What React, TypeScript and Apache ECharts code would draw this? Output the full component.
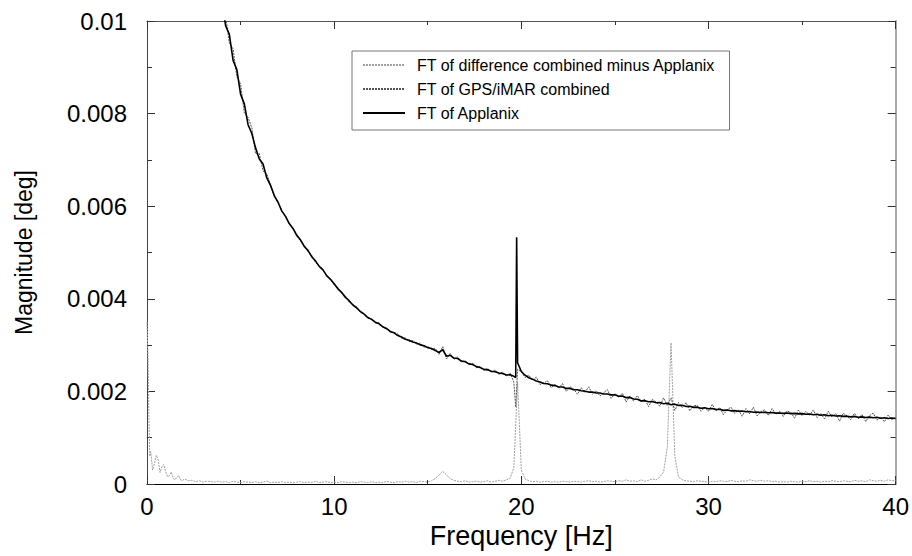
import React, { useEffect, useRef } from "react";
import * as echarts from "echarts";

// Values in micro-degrees (1e-6 deg); converted to deg when building the series.
const STEP_HZ = 0.2;

// FT of Applanix, 4.0 Hz .. 40.0 Hz
const APPLANIX_START = 4.0;
const applanix = [
  10440, 9900, 9710, 9150, 8950, 8420, 8210, 7760, 7570, 7260,
  7020, 6910, 6610, 6450, 6230, 6085, 5900, 5780, 5625, 5520,
  5370, 5275, 5130, 5045, 4910, 4820, 4700, 4625, 4500, 4420,
  4325, 4215, 4140, 4030, 3960, 3865, 3805, 3725, 3670, 3595,
  3555, 3495, 3460, 3395, 3355, 3295, 3265, 3205, 3175, 3125,
  3105, 3065, 3045, 3005, 2985, 2945, 2925, 2885, 2840, 2900,
  2760, 2780, 2720, 2710, 2655, 2640, 2595, 2580, 2535, 2515,
  2475, 2465, 2435, 2425, 2395, 2385, 2355, 2360, 2325, 2620,
  2430, 2350, 2295, 2265, 2225, 2205, 2170, 2165, 2135, 2125,
  2095, 2095, 2065, 2065, 2035, 2035, 2015, 2005, 1985, 1985,
  1965, 1965, 1945, 1945, 1925, 1925, 1895, 1900, 1865, 1870,
  1835, 1830, 1795, 1800, 1775, 1780, 1755, 1760, 1735, 1745,
  1710, 1725, 1695, 1700, 1675, 1680, 1655, 1660, 1635, 1645,
  1625, 1630, 1610, 1615, 1590, 1600, 1580, 1585, 1570, 1575,
  1560, 1565, 1550, 1555, 1545, 1550, 1540, 1545, 1530, 1535,
  1525, 1535, 1520, 1525, 1515, 1520, 1505, 1510, 1495, 1505,
  1485, 1495, 1475, 1485, 1470, 1475, 1460, 1465, 1450, 1460,
  1440, 1450, 1435, 1445, 1430, 1440, 1420, 1430, 1415, 1425,
  1415,
];
const applanixPeakHz = [19.7, 19.75];
const applanixPeakVal = [2300, 5330];

// FT of GPS/iMAR combined, 4.0 Hz .. 40.0 Hz
const GPS_START = 4.0;
const gpsImar = [
  10300, 10110, 9520, 9400, 8800, 8640, 8010, 7920, 7690, 7130,
  7140, 6760, 6700, 6470, 6210, 6090, 5900, 5790, 5620, 5520,
  5395, 5240, 5165, 5020, 4940, 4785, 4720, 4630, 4495, 4435,
  4300, 4245, 4115, 4070, 3925, 3880, 3830, 3710, 3675, 3575,
  3570, 3475, 3485, 3385, 3375, 3270, 3275, 3240, 3150, 3155,
  3075, 3100, 3020, 3045, 2950, 2975, 2905, 2930, 2800, 2970,
  2700, 2820, 2690, 2745, 2630, 2665, 2575, 2610, 2510, 2540,
  2450, 2500, 2405, 2465, 2370, 2420, 2330, 2395, 2200, 2480,
  2420, 2300, 2350, 2240, 2310, 2150, 2180, 2230, 2080, 2150,
  2070, 2170, 2000, 2100, 2050, 1940, 2080, 1980, 2100, 1940,
  2020, 1900, 1970, 2040, 1850, 1950, 1880, 1960, 1770, 1900,
  1790, 1910, 1780, 1830, 1670, 1830, 1770, 1680, 1860, 1700,
  1860, 1590, 1760, 1650, 1760, 1580, 1690, 1700, 1570, 1655,
  1570, 1720, 1580, 1650, 1500, 1605, 1660, 1525, 1600, 1465,
  1630, 1515, 1660, 1468, 1565, 1602, 1480, 1628, 1505, 1572,
  1460, 1577, 1544, 1421, 1598, 1475, 1570, 1485, 1600, 1435,
  1520, 1405, 1570, 1445, 1520, 1355, 1530, 1465, 1390, 1527,
  1404, 1501, 1348, 1475, 1532, 1379, 1446, 1343, 1490, 1388,
  1440,
];
const gpsDipHz = [19.7];
const gpsDipVal = [1660];

// FT of difference combined minus Applanix, 0.0 Hz .. 40.0 Hz
const DIFF_START = 0.0;
const difference = [
  3500, 700, 450, 520, 380, 260, 180, 120, 150, 90,
  110, 70, 80, 50, 70, 40, 60, 50, 40, 60,
  40, 50, 30, 60, 40, 30, 50, 40, 30, 50,
  30, 40, 60, 30, 40, 30, 50, 30, 40, 30,
  40, 50, 30, 40, 30, 60, 30, 40, 50, 30,
  40, 30, 50, 40, 30, 40, 30, 50, 40, 30,
  50, 30, 40, 30, 60, 40, 30, 50, 40, 60,
  40, 50, 30, 60, 50, 40, 70, 120, 190, 270,
  200, 110, 80, 60, 50, 70, 40, 50, 60, 40,
  50, 70, 40, 60, 80, 60, 90, 120, 350, 2200,
  300, 110, 70, 50, 60, 40, 50, 60, 40, 50,
  40, 60, 50, 40, 60, 50, 40, 60, 70, 50,
  60, 40, 50, 70, 60, 50, 70, 60, 90, 60,
  70, 50, 90, 60, 80, 110, 90, 150, 260, 800,
  3050, 600, 150, 90, 70, 60, 50, 70, 60, 50,
  40, 60, 50, 70, 60, 50, 80, 60, 50, 70,
  60, 90, 70, 60, 80, 60, 70, 50, 60, 40,
  50, 40, 60, 50, 40, 60, 50, 70, 50, 60,
  40, 60, 50, 70, 60, 50, 70, 60, 50, 80,
  60, 70, 50, 90, 70, 60, 80, 60, 90, 70,
  80,
];
// extra low-frequency samples of the difference (noisy cluster below 2 Hz)
const diffLowHz = [0.05, 0.1, 0.15, 0.3, 0.5, 0.7, 0.9, 1.1, 1.3, 1.5, 1.7, 1.9];
const diffLowVal = [2800, 1500, 600, 300, 620, 250, 420, 160, 260, 90, 180, 70];

const seriesNames = [
  "FT of difference combined minus Applanix",
  "FT of GPS/iMAR combined",
  "FT of Applanix",
];
const xTicks = [0, 10, 20, 30, 40];
const yTicks = [0, 0.002, 0.004, 0.006, 0.008, 0.01];

function build(start: number, vals: number[], extraHz: number[] = [], extraVal: number[] = []) {
  const pts: [number, number][] = vals.map((v, i) => [
    +(start + i * STEP_HZ).toFixed(2),
    v * 1e-6,
  ]);
  extraHz.forEach((f, i) => pts.push([f, extraVal[i] * 1e-6]));
  pts.sort((a, b) => a[0] - b[0]);
  return pts;
}

const FONT = "'Liberation Sans', Arial, Helvetica, sans-serif";

export default function App() {
  const ref = useRef<HTMLDivElement>(null);
  useEffect(() => {
    if (!ref.current) return;
    const chart = echarts.init(ref.current, undefined, { renderer: "svg" });
    const tickStyle = { color: "#333", width: 1 };
    chart.setOption({
      animation: false,
      backgroundColor: "#fff",
      grid: { left: 147, right: 16, top: 21, bottom: 72, containLabel: false },
      legend: {
        orient: "vertical",
        left: 352,
        top: 51,
        data: seriesNames,
        itemWidth: 42,
        itemHeight: 14,
        itemGap: 8,
        padding: [6, 14, 9, 10],
        borderColor: "#777",
        borderWidth: 1,
        backgroundColor: "#fff",
        selectedMode: false,
        itemStyle: { opacity: 0 },
        textStyle: { fontSize: 16, color: "#000", fontFamily: FONT, padding: [0, 0, 0, 7] },
      },
      xAxis: [
        {
          type: "value",
          position: "bottom",
          min: xTicks[0],
          max: xTicks[xTicks.length - 1],
          interval: 10,
          name: "Frequency [Hz]",
          nameLocation: "middle",
          nameGap: 38,
          nameTextStyle: { fontSize: 27, color: "#000", fontFamily: FONT },
          axisLine: { show: true, lineStyle: { color: "#000", width: 1 } },
          axisTick: { show: true, inside: true, length: 8, lineStyle: tickStyle },
          minorTick: { show: true, splitNumber: 2, length: 4, lineStyle: tickStyle },
          axisLabel: { fontSize: 24, color: "#000", fontFamily: FONT, margin: 10 },
          splitLine: { show: false },
        },
        {
          type: "value",
          position: "top",
          min: xTicks[0],
          max: xTicks[xTicks.length - 1],
          interval: 10,
          axisLine: { show: true, onZero: false, lineStyle: { color: "#555", width: 1 } },
          axisTick: { show: true, inside: true, length: 8, lineStyle: tickStyle },
          minorTick: { show: true, splitNumber: 2, length: 4, lineStyle: tickStyle },
          axisLabel: { show: false },
          splitLine: { show: false },
        },
      ],
      yAxis: [
        {
          type: "value",
          position: "left",
          min: yTicks[0],
          max: yTicks[yTicks.length - 1],
          interval: 0.002,
          name: "Magnitude [deg]",
          nameLocation: "middle",
          nameGap: 112,
          nameTextStyle: { fontSize: 23, color: "#000", fontFamily: FONT },
          axisLine: { show: true, lineStyle: { color: "#444", width: 1 } },
          axisTick: { show: true, inside: true, length: 8, lineStyle: tickStyle },
          minorTick: { show: true, splitNumber: 2, length: 5, lineStyle: tickStyle },
          axisLabel: {
            fontSize: 24,
            color: "#000",
            fontFamily: FONT,
            margin: 20,
            formatter: (v: number) => (v === 0 ? "0" : String(+v.toFixed(3))),
          },
          splitLine: { show: false },
        },
        {
          type: "value",
          position: "right",
          min: yTicks[0],
          max: yTicks[yTicks.length - 1],
          interval: 0.002,
          axisLine: { show: true, onZero: false, lineStyle: { color: "#aaa", width: 2 } },
          axisTick: { show: true, inside: true, length: 8, lineStyle: tickStyle },
          minorTick: { show: true, splitNumber: 2, length: 5, lineStyle: tickStyle },
          axisLabel: { show: false },
          splitLine: { show: false },
        },
      ],
      series: [
        {
          name: seriesNames[0],
          type: "line",
          data: build(DIFF_START, difference, diffLowHz, diffLowVal),
          symbol: "none",
          showSymbol: false,
          clip: true,
          silent: true,
          lineStyle: { color: "#a0a0a0", width: 1, type: [2, 1] },
          itemStyle: { color: "#a0a0a0" },
          z: 2,
        },
        {
          name: seriesNames[1],
          type: "line",
          data: build(GPS_START, gpsImar, gpsDipHz, gpsDipVal),
          symbol: "none",
          showSymbol: false,
          clip: true,
          silent: true,
          lineStyle: { color: "#555", width: 1, type: [2, 1] },
          itemStyle: { color: "#555" },
          z: 3,
        },
        {
          name: seriesNames[2],
          type: "line",
          data: build(APPLANIX_START, applanix, applanixPeakHz, applanixPeakVal),
          symbol: "none",
          showSymbol: false,
          clip: true,
          silent: true,
          lineStyle: { color: "#000", width: 1.6 },
          itemStyle: { color: "#000" },
          z: 4,
        },
      ],
    });
    return () => chart.dispose();
  }, []);
  return <div ref={ref} style={{ width: 912, height: 556, position: "absolute", left: 0, top: 0 }} />;
}
